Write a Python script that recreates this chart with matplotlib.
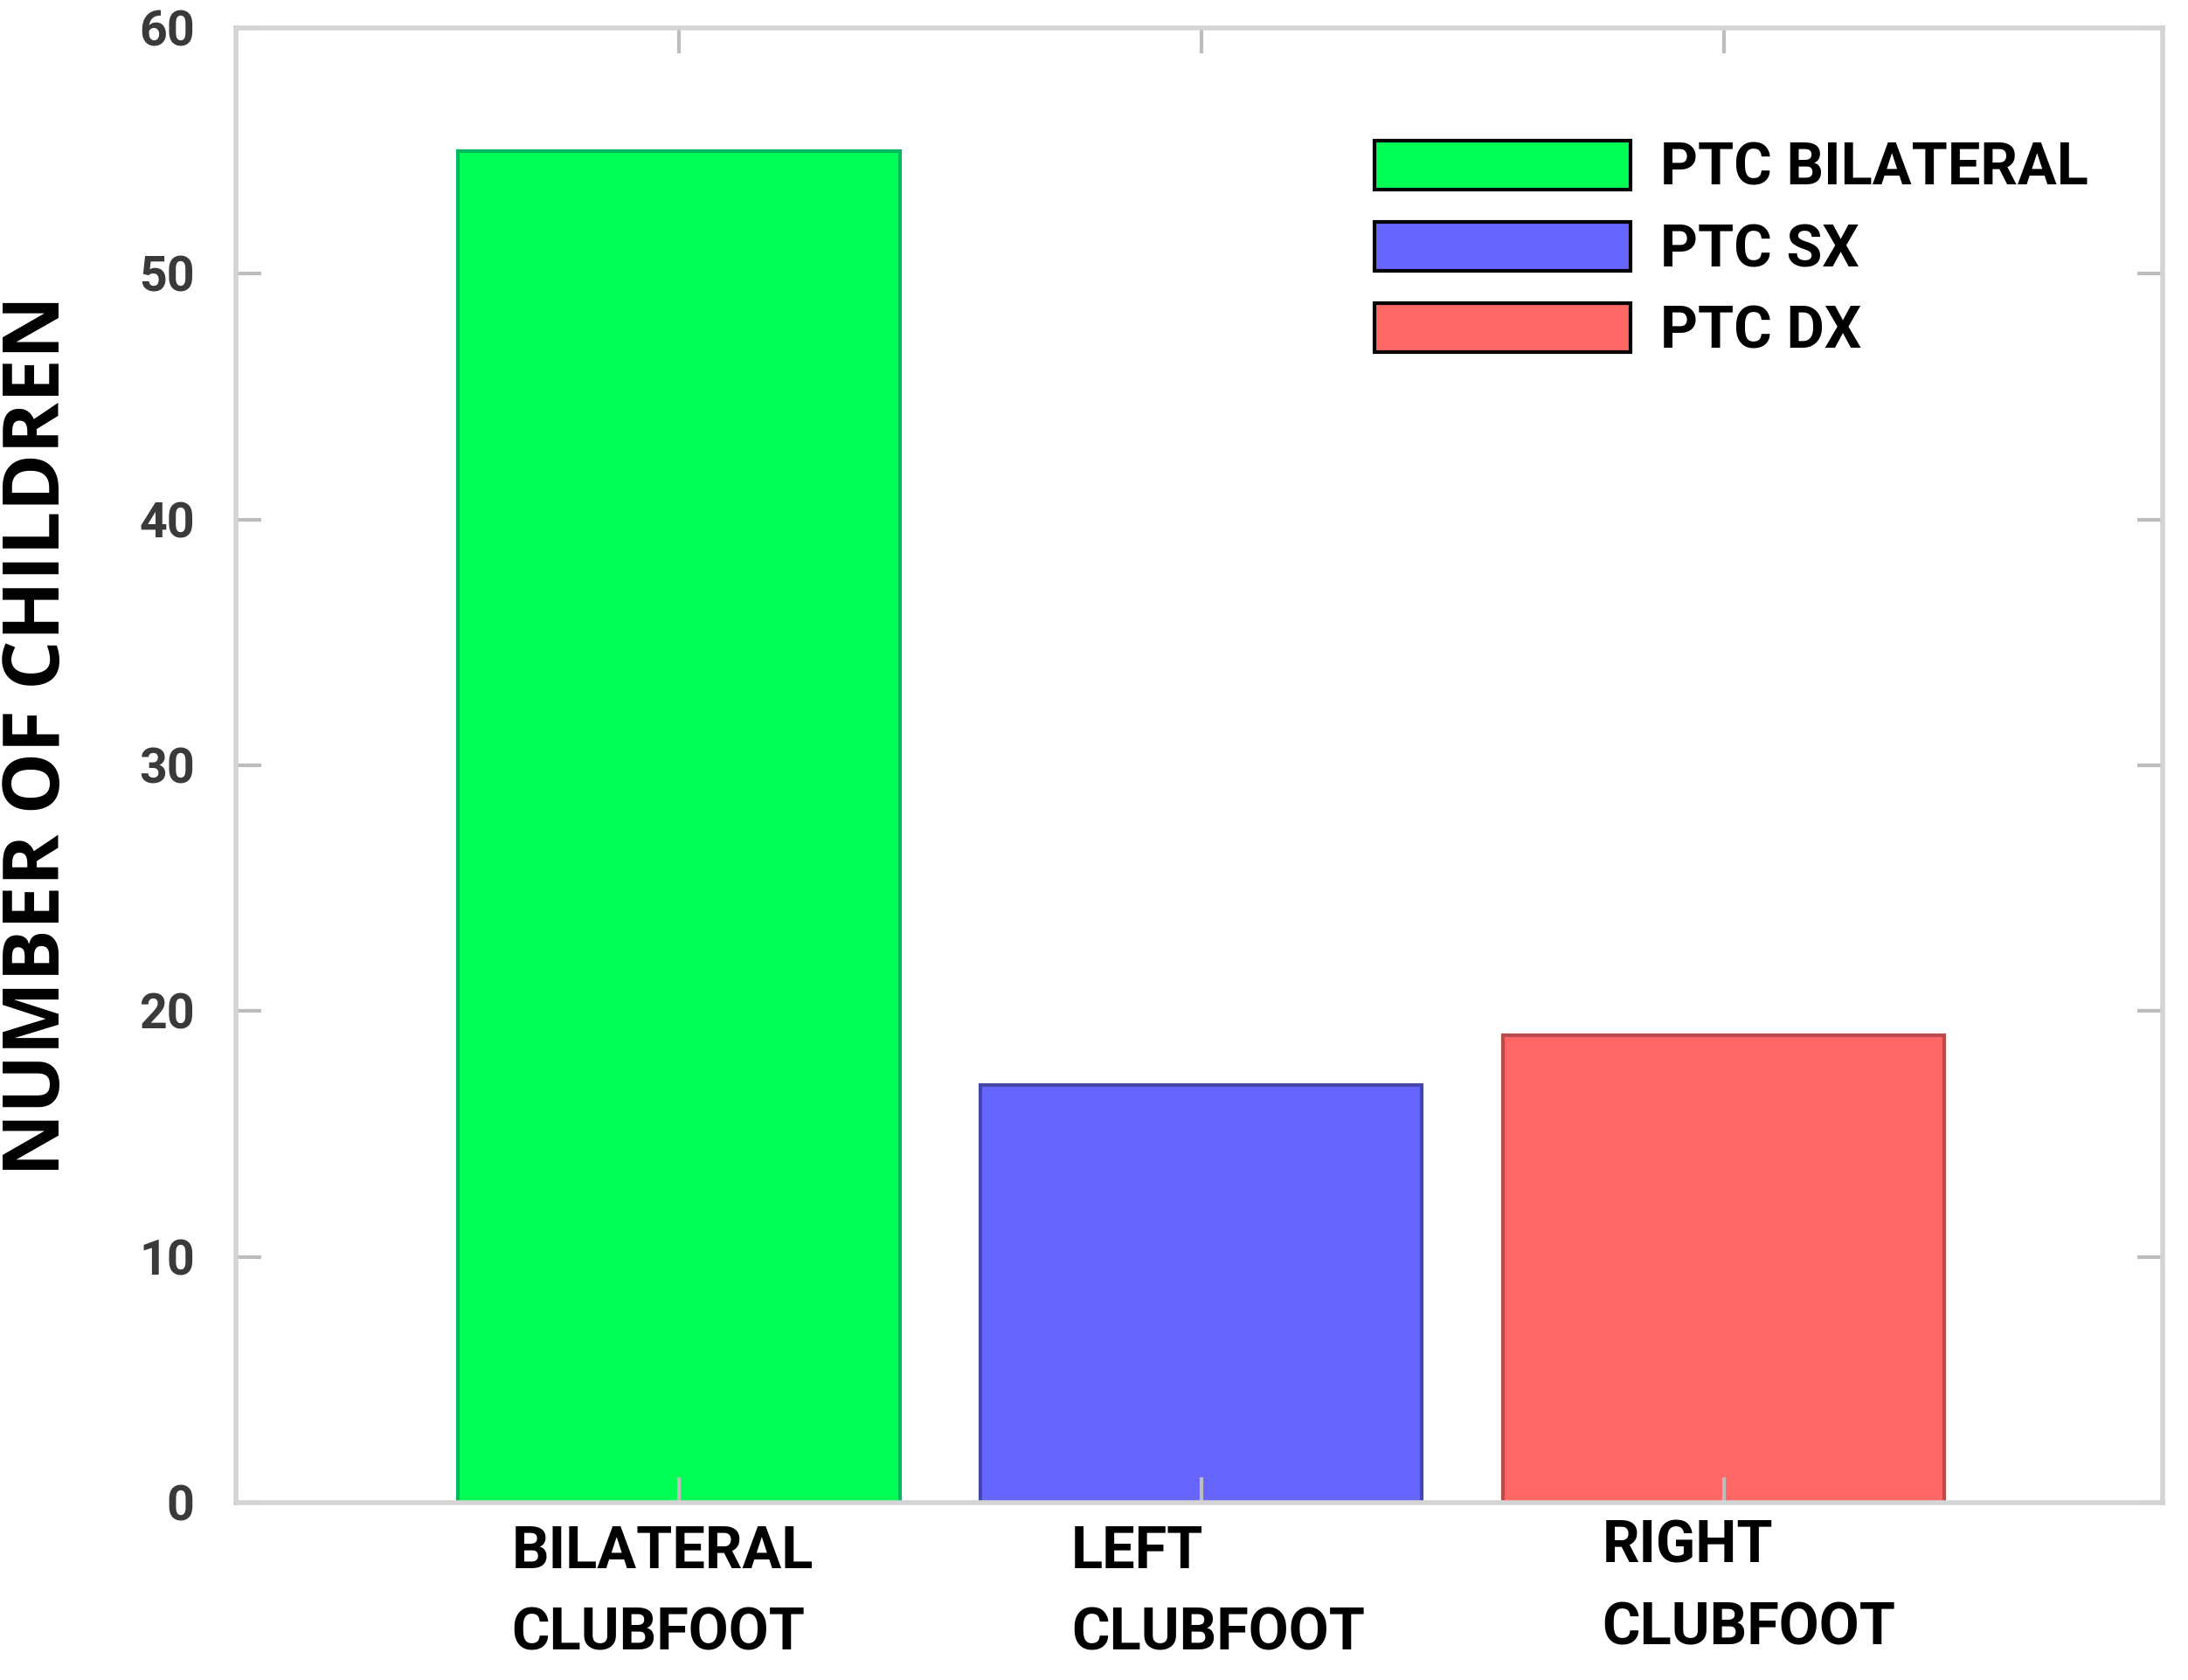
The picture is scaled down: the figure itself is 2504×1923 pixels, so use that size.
import numpy as np
import matplotlib
matplotlib.use('Agg')
import matplotlib.pyplot as plt
from matplotlib.transforms import ScaledTranslation

# data
categories = ['BILATERAL\nCLUBFOOT', 'LEFT\nCLUBFOOT', 'RIGHT\nCLUBFOOT']
series = ['PTC BILATERAL', 'PTC SX', 'PTC DX']
counts = [55, 17, 19]
colors = ['#00ff55', '#6666ff', '#ff6666']
edges = ['#00b862', '#4646a8', '#b84c4c']
yticks = [0, 10, 20, 30, 40, 50, 60]

lab_font = ['Roboto', 'DejaVu Sans']

fig = plt.figure(figsize=(25.04, 19.23), dpi=100)
ax = fig.add_axes([0.1078, 0.1056, 0.8806, 0.8778])

x = np.arange(len(categories))
for i in range(len(categories)):
    ax.bar(x[i], counts[i], width=0.845, color=colors[i], edgecolor=edges[i],
           linewidth=3, label=series[i], zorder=1)

ax.set_xlim(-0.848, 2.84)
ax.set_ylim(0, 60)
ax.set_yticks(yticks)
ax.set_xticks(x)
ax.set_xticklabels(categories, multialignment='left')

for s in ax.spines.values():
    s.set_color('#d4d4d4')
    s.set_linewidth(4)

ax.tick_params(axis='both', direction='in', length=21, width=3, color='#bdbdbd',
               top=True, right=True)
ax.tick_params(axis='y', pad=34, labelsize=40, labelcolor='#3a3a3a')
ax.tick_params(axis='x', pad=18, labelsize=48, labelcolor='black')
for lab in ax.get_yticklabels():
    lab.set_family(lab_font)
    lab.set_fontweight('bold')

# small nudges of the category labels (px at 100 dpi)
nudges = [(-19, 0), (19, 0), (29, 6)]
for lab, (dx, dy) in zip(ax.get_xticklabels(), nudges):
    lab.set_family(lab_font)
    lab.set_fontweight('bold')
    lab.set_linespacing(1.6)
    lab.set_transform(lab.get_transform() + ScaledTranslation(dx / 100, dy / 100, fig.dpi_scale_trans))

ax.set_ylabel('NUMBER OF CHILDREN', fontsize=64, fontweight='bold',
              family=['Open Sans', 'DejaVu Sans'])
ax.yaxis.set_label_coords(-0.0816, 0.520)

leg = ax.legend(loc='upper left', bbox_to_anchor=(0.591, 0.9236), frameon=False,
                prop={'family': lab_font, 'weight': 'bold', 'size': 48},
                handlelength=4.4, handleheight=0.92, handletextpad=0.5,
                labelspacing=0.42, borderpad=0, borderaxespad=0)
for h in leg.legend_handles:
    h.set_edgecolor('black')
    h.set_linewidth(3)

plt.savefig('out.png', dpi=100)
